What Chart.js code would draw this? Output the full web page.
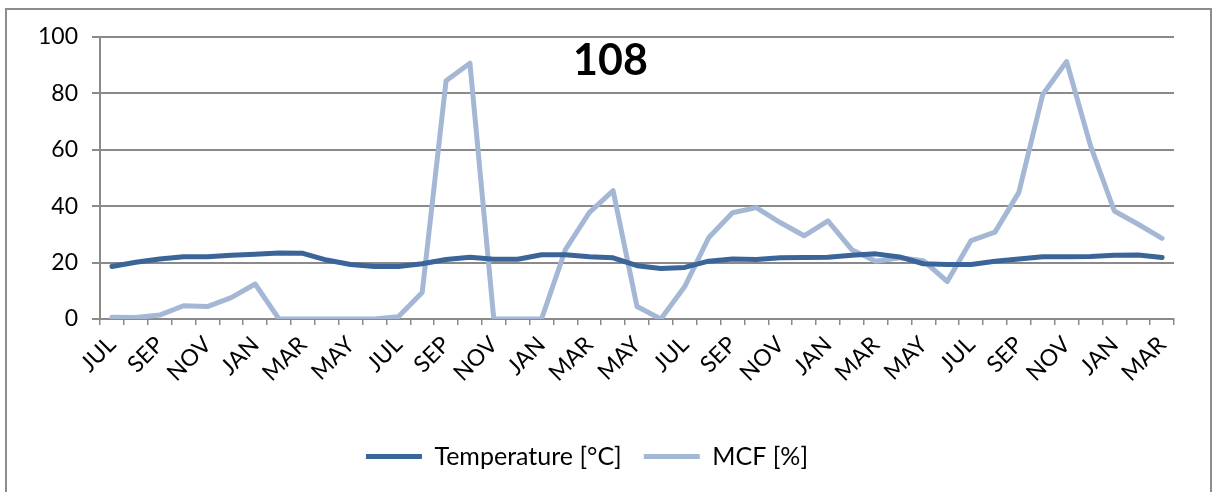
<!DOCTYPE html>
<html>
<head>
<meta charset="utf-8">
<script src="https://cdn.jsdelivr.net/npm/chart.js@4/dist/chart.umd.min.js"></script>
<style>
  html, body { margin: 0; padding: 0; background: #fff; }
  #wrap { position: relative; width: 1213px; height: 492px; }
</style>
</head>
<body>
<div id="wrap"><canvas id="mcfChart" width="1213" height="492"></canvas></div>
<script>
// monthly series, Jul through Mar three years later
const months = [
    'JUL', 'AUG', 'SEP', 'OCT', 'NOV', 'DEC', 'JAN', 'FEB', 'MAR', 'APR', 'MAY', 'JUN',
    'JUL', 'AUG', 'SEP', 'OCT', 'NOV', 'DEC', 'JAN', 'FEB', 'MAR', 'APR', 'MAY', 'JUN',
    'JUL', 'AUG', 'SEP', 'OCT', 'NOV', 'DEC', 'JAN', 'FEB', 'MAR', 'APR', 'MAY', 'JUN',
    'JUL', 'AUG', 'SEP', 'OCT', 'NOV', 'DEC', 'JAN', 'FEB', 'MAR'
];

const temperature = [
    18.6, 20.1, 21.3, 22.1, 22.1, 22.6, 23.0, 23.4, 23.3, 20.9, 19.3, 18.6,
    18.6, 19.6, 21.1, 21.9, 21.2, 21.2, 22.8, 22.8, 22.1, 21.7, 18.9, 17.9,
    18.3, 20.5, 21.3, 21.1, 21.7, 21.8, 21.9, 22.6, 23.1, 22.0, 19.6, 19.3,
    19.3, 20.5, 21.3, 22.1, 22.1, 22.2, 22.6, 22.7, 21.8
];

const mcf = [
    0.6, 0.5, 1.4, 4.7, 4.4, 7.6, 12.4, 0, 0, 0, 0, 0,
    0.8, 9.4, 84.5, 90.7, 0, 0, 0, 24.6, 37.7, 45.5, 4.4, 0,
    11.5, 28.8, 37.7, 39.5, 34.2, 29.5, 34.8, 24.6, 20.5, 21.7, 20.7, 13.3,
    27.8, 30.8, 44.9, 79.6, 91.3, 61.5, 38.3, 33.6, 28.6
];

const yTicks = [0, 20, 40, 60, 80, 100];
const siteLabel = '108';

const FONT = 'Lato, "Open Sans", sans-serif';
const GRID = '#8a8a8a';

// outer frame + site number inside the plot
const decor = {
    id: 'decor',
    beforeDraw(chart) {
        const c = chart.ctx;
        c.save();
        c.strokeStyle = '#8c8c8c';
        c.lineWidth = 2;
        c.strokeRect(6, 9, chart.width - 8, chart.height + 20);
        c.restore();
    },
    afterDraw(chart) {
        const c = chart.ctx;
        c.save();
        c.font = 'bold 43px ' + FONT;
        c.fillStyle = '#000';
        c.textAlign = 'center';
        c.textBaseline = 'middle';
        c.fillText(siteLabel, chart.width / 2 + 4, chart.chartArea.top + 24);
        c.restore();
    }
};

const ctx = document.getElementById('mcfChart').getContext('2d');
const chart = new Chart(ctx, {
    type: 'line',
    data: {
        labels: months,
        datasets: [
            {
                label: 'Temperature [°C]',
                data: temperature,
                borderColor: '#3b6598',
                backgroundColor: '#3b6598',
                borderWidth: 5,
                pointRadius: 0,
                tension: 0,
                borderJoinStyle: 'round',
                borderCapStyle: 'round'
            },
            {
                label: 'MCF [%]',
                data: mcf,
                borderColor: '#a4b7d5',
                backgroundColor: '#a4b7d5',
                borderWidth: 5,
                pointRadius: 0,
                tension: 0,
                borderJoinStyle: 'round',
                borderCapStyle: 'round'
            }
        ]
    },
    options: {
        responsive: false,
        animation: false,
        devicePixelRatio: 1,
        layout: { padding: { top: 37, right: 39, bottom: 13, left: 0 } },
        plugins: {
            title: { display: false },
            tooltip: { enabled: false },
            legend: {
                position: 'bottom',
                labels: {
                    font: { family: FONT, size: 25 },
                    color: '#000',
                    boxWidth: 56,
                    boxHeight: 5,
                    padding: 22,
                    generateLabels(ch) {
                        return Chart.defaults.plugins.legend.labels.generateLabels(ch).map(item => {
                            item.fillStyle = item.strokeStyle;
                            item.lineWidth = 0;
                            return item;
                        });
                    }
                }
            }
        },
        scales: {
            x: {
                offset: true,
                grid: {
                    offset: true,
                    drawOnChartArea: false,
                    drawTicks: true,
                    tickLength: 6,
                    color: GRID,
                    lineWidth: 1.5
                },
                border: { color: GRID, width: 2 },
                ticks: {
                    autoSkip: false,
                    maxRotation: 45,
                    minRotation: 45,
                    padding: 6,
                    color: '#000',
                    font: { family: FONT, size: 23 },
                    callback(value, index) {
                        return index % 2 === 0 ? months[index] : '';
                    }
                },
                afterFit(scale) { scale.height = 103; }
            },
            y: {
                min: 0,
                max: 100,
                afterBuildTicks(scale) {
                    scale.ticks = yTicks.map(v => ({ value: v }));
                },
                grid: {
                    color: GRID,
                    lineWidth: 2,
                    tickLength: 8
                },
                border: { color: GRID, width: 2 },
                ticks: {
                    padding: 14,
                    color: '#000',
                    font: { family: FONT, size: 23 }
                },
                afterFit(scale) { scale.width = 100; }
            }
        }
    },
    plugins: [decor]
});
</script>
</body>
</html>
